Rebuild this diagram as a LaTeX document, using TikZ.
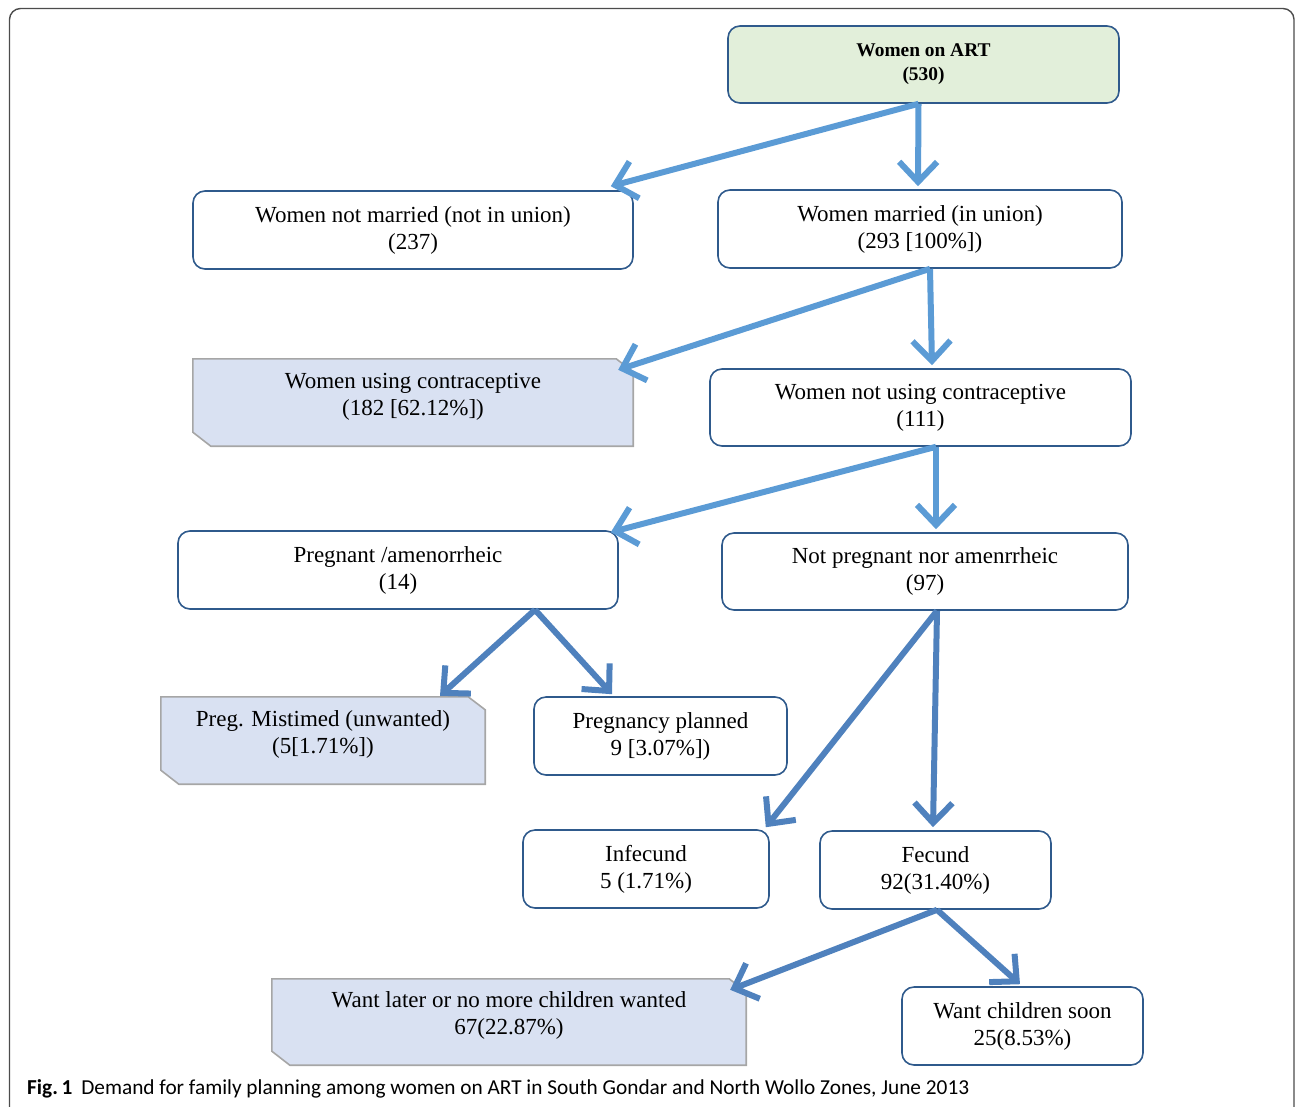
\documentclass[tikz,border=0pt]{standalone}
\usepackage{fontspec}
\setmainfont{Liberation Serif}
\newfontfamily\capfont{Carlito}
\usetikzlibrary{arrows.meta,calc,backgrounds}
\definecolor{boxline}{HTML}{2F5A8C}
\definecolor{topfill}{HTML}{E2EFDA}
\definecolor{snipfill}{HTML}{D9E1F2}
\definecolor{sniplinec}{HTML}{A6A6A6}
\definecolor{arrA}{HTML}{5B9BD5}
\definecolor{arrB}{HTML}{4F81BD}
\newcommand{\lowpad}{\rule[-17pt]{0pt}{17pt}}
\tikzset{
  plainbox/.style={draw=boxline, line width=1.6pt, rounded corners=12pt, fill=white,
    align=center, inner sep=0pt, font=\fontsize{23}{27}\selectfont},
  topbox/.style={plainbox, fill=topfill, font=\fontsize{19.4}{24}\selectfont\bfseries},
  snipbox/.style={rectangle, align=center, inner sep=0pt, font=\fontsize{23}{27}\selectfont},
  snipline/.style={draw=sniplinec, line width=1.6pt, fill=snipfill, line join=miter},
  flowA/.style={draw=arrA, line width=6pt, -{Straight Barb[length=20pt,width=38pt]}},
  flowB/.style={draw=arrB, line width=6pt, -{Straight Barb[length=20pt,width=38pt]}},
  frame/.style={draw=black!70, line width=1.4pt, rounded corners=11pt}
}
\newcommand{\snipshape}[1]{%
  \path[snipline] (#1.north west) -- ($(#1.north east)+(-17,0)$) -- ($(#1.north east)+(0,13)$)
    -- (#1.south east) -- ($(#1.south west)+(18,0)$) -- ($(#1.south west)+(0,-14)$) -- cycle;}
\begin{document}
\begin{tikzpicture}[x=1pt,y=-1pt]
\useasboundingbox (0,0) rectangle (1295,1106);
\path[frame] (9.5,1120) -- (9.5,8.5) -- (1294,8.5) -- (1294,1120);

\node[topbox, minimum width=391pt, minimum height=77pt] (top) at (923.5,64.5) {Women on ART\\(530)};
\node[plainbox, minimum width=440pt, minimum height=78pt] (nm) at (413,230) {Women not married (not in union)\\(237)};
\node[plainbox, minimum width=404pt, minimum height=78pt] (m) at (920,229) {Women married (in union)\\(293 [100\%])};
\node[snipbox, minimum width=440pt, minimum height=87pt] (uc) at (413,402.5) {Women using contraceptive\\(182 [62.12\%])\lowpad};
\node[plainbox, minimum width=421pt, minimum height=77pt] (nuc) at (920.5,407.5) {Women not using contraceptive\\(111)};
\node[plainbox, minimum width=440pt, minimum height=78pt] (preg) at (398,570) {Pregnant /amenorrheic\\(14)};
\node[plainbox, minimum width=406pt, minimum height=77pt] (np) at (925,571.5) {Not pregnant nor amenrrheic\\(97)};
\node[snipbox, minimum width=324pt, minimum height=87pt] (mis) at (323,740.5) {Preg. Mistimed (unwanted)\\(5[1.71\%])\lowpad};
\node[plainbox, minimum width=253pt, minimum height=78pt] (plan) at (660.5,736) {Pregnancy planned\\9 [3.07\%])};
\node[plainbox, minimum width=246pt, minimum height=78pt] (inf) at (646,869) {Infecund\\5 (1.71\%)};
\node[plainbox, minimum width=231pt, minimum height=78pt] (fec) at (935.5,870) {Fecund\\92(31.40\%)};
\node[snipbox, minimum width=474pt, minimum height=86pt] (wl) at (509,1022) {Want later or no more children wanted\\67(22.87\%)\lowpad};
\node[plainbox, minimum width=241pt, minimum height=78pt] (ws) at (1022.5,1026) {Want children soon\\25(8.53\%)};

\begin{scope}[on background layer]
\snipshape{uc}
\snipshape{mis}
\snipshape{wl}
\end{scope}

\coordinate (s1) at ($(top.south)+(-5,0)$);
\coordinate (s2) at ($(m.south)+(10,0)$);
\coordinate (s3) at ($(nuc.south)+(15.5,0)$);
\coordinate (s4) at ($(preg.south)+(137,0)$);
\coordinate (s5) at ($(np.south)+(12,0)$);
\coordinate (s6) at ($(fec.south)+(1.5,0)$);

\draw[flowA] (s1) -- ($(nm.north east)+(-23,-4)$);
\draw[flowA] (s1) -- ($(m.north)+(-2,-3)$);
\draw[flowA] (s2) -- ($(uc.north east)+(-15,11)$);
\draw[flowA] (s2) -- ($(nuc.north)+(11.5,-3)$);
\draw[flowA] (s3) -- ($(preg.north east)+(-8,2)$);
\draw[flowA] (s3) -- ($(np.north)+(11,-3)$);
\draw[flowB] (s4) -- ($(mis.north)+(117,-1)$);
\draw[flowB] (s4) -- ($(plan.north)+(-48.5,-2)$);
\draw[flowB] (s5) -- ($(inf.north east)+(-4,-2)$);
\draw[flowB] (s5) -- ($(fec.north)+(-2.5,-3)$);
\draw[flowB] (s6) -- ($(wl.north east)+(-16,11)$);
\draw[flowB] (s6) -- ($(ws.north)+(-2.5,-2)$);

\node[anchor=base west, inner sep=0pt, font=\capfont\fontsize{21.3}{25}\selectfont] (cap) at (27,1094)
  {\textbf{Fig.\,1}\hspace{9pt}Demand for family planning among women on ART in South Gondar and North Wollo Zones, June 2013};
\end{tikzpicture}
\end{document}
